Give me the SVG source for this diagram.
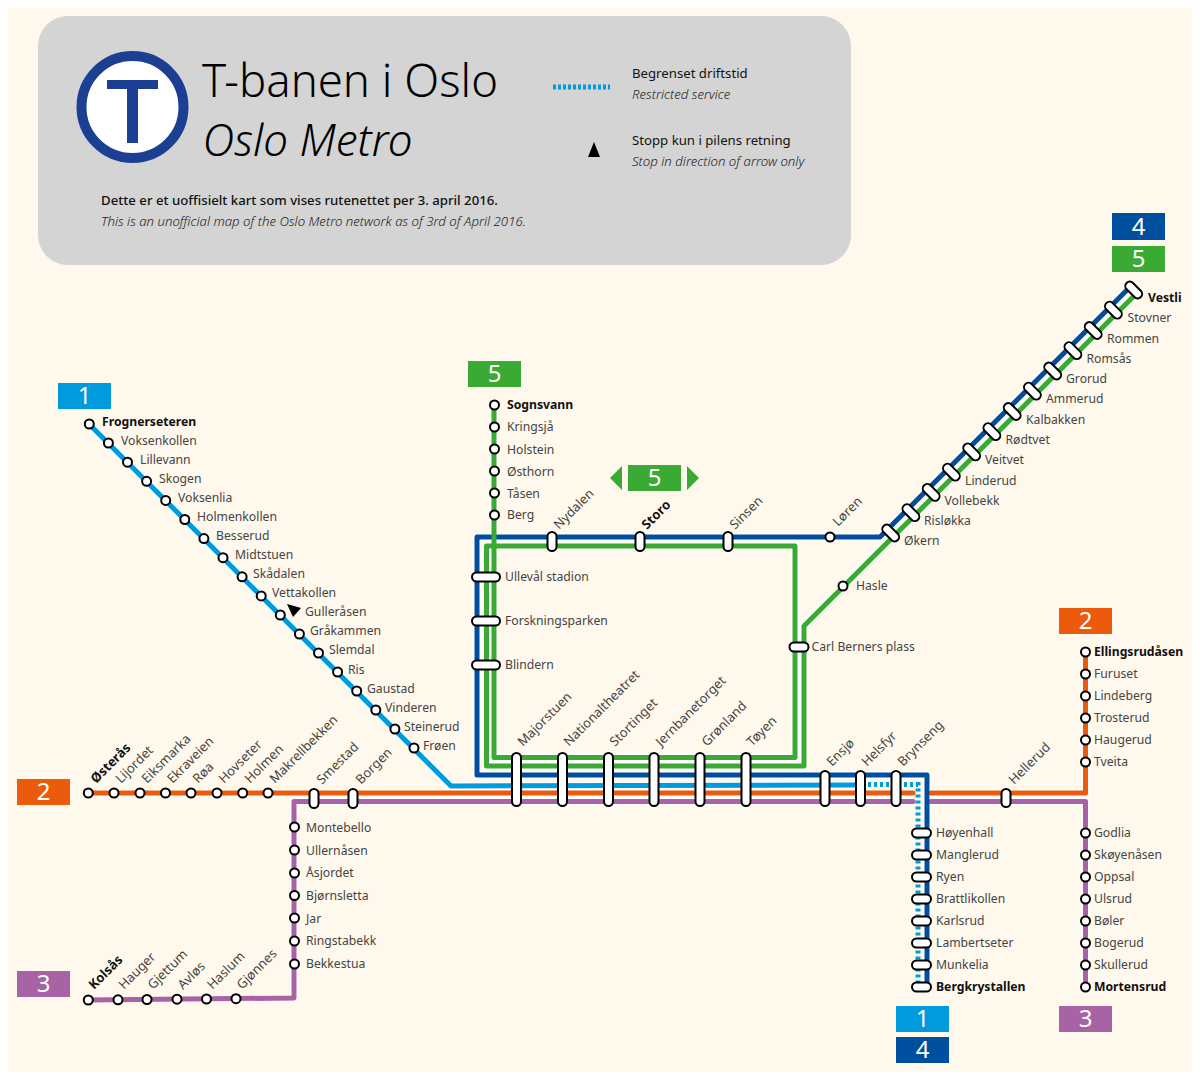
<svg xmlns="http://www.w3.org/2000/svg" width="1200" height="1080" viewBox="0 0 1200 1080">
<style>
text{font-family:"Noto Sans","Open Sans",sans-serif;font-size:12.2px;fill:#444}
text[transform]{font-size:13px}
.b{font-weight:700;fill:#111}
.c{dominant-baseline:central}
.r{stroke:#000;stroke-width:2;fill:#fff}
.o{fill:none;stroke:#fff;stroke-width:8;stroke-linejoin:round}
.l{fill:none;stroke-width:5;stroke-linejoin:round;stroke-linecap:round}
.bd{font-size:24px;fill:#fff;text-anchor:middle}
.l1{stroke:#009bdc}.l2{stroke:#ec5b0c}.l3{stroke:#a763a4}.l4{stroke:#004f9f}.l5{stroke:#3aaa35}
.f1{fill:#009bdc}.f2{fill:#ec5b0c}.f3{fill:#a763a4}.f4{fill:#004f9f}.f5{fill:#3aaa35}
.leg{font-size:13.200px;fill:#111}
.legi{font-size:13.200px;font-style:italic;font-weight:300;fill:#222}
</style>
<rect width="1200" height="1080" fill="#fff"/>
<rect x="8" y="8" width="1184" height="1064" fill="#fff8ec"/>
<g id="legend">
<rect x="38" y="16" width="813" height="249" rx="30" fill="#d4d4d4"/>
<circle cx="132.500" cy="107" r="51" fill="#fff" stroke="#1c3f94" stroke-width="10"/>
<path d="M107 80H158V89H138V143H127V89H107Z" fill="#1c3f94"/>
<text x="202" y="97" style="font-size:45.500px;font-weight:300;fill:#000">T-banen i Oslo</text>
<text x="202.500" y="156" style="font-size:44px;font-weight:300;font-style:italic;fill:#000">Oslo Metro</text>
<line x1="553" y1="87" x2="610" y2="87" stroke="#009bdc" stroke-width="5" stroke-dasharray="3 2"/>
<path d="M594 142L600 157H588Z" fill="#000"/>
<text x="632" y="78" class="leg">Begrenset driftstid</text>
<text x="632" y="99" class="legi">Restricted service</text>
<text x="632" y="145" class="leg">Stopp kun i pilens retning</text>
<text x="632" y="166" class="legi">Stop in direction of arrow only</text>
<text x="101" y="205" style="font-size:13.200px;font-weight:500;fill:#111">Dette er et uoffisielt kart som vises rutenettet per 3. april 2016.</text>
<text x="101" y="226" class="legi">This is an unofficial map of the Oslo Metro network as of 3rd of April 2016.</text>
</g>
<g id="connectors">
<path class="o" d="M88 793H913M931 793H1085.500V652"/>
<path class="o" d="M294 998V801.500H913M931 801.500H1085.500V987"/>
<path class="o" d="M89 424L451 786H860"/>
<path class="o" d="M477 775V537H880L1130 287M477 775H927V987"/>
<path class="o" d="M494 405V757.500H795V546H486.500V766H804V626L1135 295"/>
<path class="l l3" d="M88 1000L294 998V801.500H913M931 801.500H1085.500V987"/>
<path class="l l2" d="M88 793H913M931 793H1085.500V652"/>
<path class="l l1" d="M89 424L451 786L860 785"/>
<path class="l1" fill="none" stroke-width="5" stroke-dasharray="3 3" d="M862 784.500H918V987"/>
<path class="l l4" d="M1130 287L880 537H477V775H927V987"/>
<path class="l l5" d="M494 405V757.500H795V546H486.500V766H804V626L1135 295"/>
</g>
<g id="badges">
<g id="badge-1a"><rect class="f1" x="58" y="383" width="53" height="26"/><text class="bd" x="84.500" y="404">1</text></g>
<g id="badge-2a"><rect class="f2" x="17" y="779" width="53" height="26"/><text class="bd" x="43.500" y="800">2</text></g>
<g id="badge-3a"><rect class="f3" x="17" y="971" width="53" height="26"/><text class="bd" x="43.500" y="992">3</text></g>
<g id="badge-5a"><rect class="f5" x="468" y="361" width="53" height="26"/><text class="bd" x="494.500" y="382">5</text></g>
<g id="badge-5b"><rect class="f5" x="628" y="465" width="53" height="26"/><text class="bd" x="654.500" y="486">5</text><path class="f5" d="M622 466V490L610 478ZM687 466V490L699 478Z"/></g>
<g id="badge-4a"><rect class="f4" x="1112" y="213" width="53" height="27"/><text class="bd" x="1138.500" y="235">4</text></g>
<g id="badge-5c"><rect class="f5" x="1112" y="246" width="53" height="26"/><text class="bd" x="1138.500" y="267">5</text></g>
<g id="badge-2b"><rect class="f2" x="1059" y="608" width="53" height="26"/><text class="bd" x="1085.500" y="629">2</text></g>
<g id="badge-1b"><rect class="f1" x="896" y="1006" width="53" height="26"/><text class="bd" x="922.500" y="1027">1</text></g>
<g id="badge-4b"><rect class="f4" x="896" y="1037" width="53" height="26"/><text class="bd" x="922.500" y="1058">4</text></g>
<g id="badge-3b"><rect class="f3" x="1059" y="1006" width="53" height="26"/><text class="bd" x="1085.500" y="1027">3</text></g>
</g>
<g id="line1-stations">
<g id="n-frognerseteren"><circle class="r" cx="89.300" cy="424" r="4.500"/><text class="b c" x="102" y="421">Frognerseteren</text></g>
<g id="n-voksenkollen"><circle class="r" cx="108.400" cy="443" r="4.500"/><text class="c" x="121" y="440">Voksenkollen</text></g>
<g id="n-lillevann"><circle class="r" cx="127.500" cy="462.200" r="4.500"/><text class="c" x="140" y="459">Lillevann</text></g>
<g id="n-skogen"><circle class="r" cx="146.600" cy="481.300" r="4.500"/><text class="c" x="159" y="478">Skogen</text></g>
<g id="n-voksenlia"><circle class="r" cx="165.700" cy="500.400" r="4.500"/><text class="c" x="178" y="497">Voksenlia</text></g>
<g id="n-holmenkollen"><circle class="r" cx="184.800" cy="519.500" r="4.500"/><text class="c" x="197" y="516">Holmenkollen</text></g>
<g id="n-besserud"><circle class="r" cx="203.900" cy="538.600" r="4.500"/><text class="c" x="216" y="535">Besserud</text></g>
<g id="n-midtstuen"><circle class="r" cx="223" cy="557.700" r="4.500"/><text class="c" x="235" y="554">Midtstuen</text></g>
<g id="n-skadalen"><circle class="r" cx="242.100" cy="576.800" r="4.500"/><text class="c" x="253" y="573">Skådalen</text></g>
<g id="n-vettakollen"><circle class="r" cx="261.200" cy="595.900" r="4.500"/><text class="c" x="272" y="592">Vettakollen</text></g>
<g id="n-gullerasen"><circle class="r" cx="280.300" cy="615" r="4.500"/><path d="M287 604L301 608L293 617Z" fill="#000"/><text class="c" x="305" y="611">Gulleråsen</text></g>
<g id="n-grakammen"><circle class="r" cx="299.400" cy="634" r="4.500"/><text class="c" x="310" y="630">Gråkammen</text></g>
<g id="n-slemdal"><circle class="r" cx="318.500" cy="653" r="4.500"/><text class="c" x="329" y="649">Slemdal</text></g>
<g id="n-ris"><circle class="r" cx="337.600" cy="672" r="4.500"/><text class="c" x="348" y="669">Ris</text></g>
<g id="n-gaustad"><circle class="r" cx="356.700" cy="691" r="4.500"/><text class="c" x="367" y="688">Gaustad</text></g>
<g id="n-vinderen"><circle class="r" cx="375.800" cy="710" r="4.500"/><text class="c" x="385" y="707">Vinderen</text></g>
<g id="n-steinerud"><circle class="r" cx="394.900" cy="729" r="4.500"/><text class="c" x="404" y="726">Steinerud</text></g>
<g id="n-froen"><circle class="r" cx="414" cy="748" r="4.500"/><text class="c" x="423" y="745">Frøen</text></g>
</g>
<g id="line2-stations">
<g id="n-osteras"><circle class="r" cx="88.300" cy="793" r="4.500"/><text class="b" transform="translate(96 784) rotate(-45)">Østerås</text></g>
<g id="n-lijordet"><circle class="r" cx="114" cy="793" r="4.500"/><text transform="translate(121 784) rotate(-45)">Lijordet</text></g>
<g id="n-eiksmarka"><circle class="r" cx="140" cy="793" r="4.500"/><text transform="translate(147 784) rotate(-45)">Eiksmarka</text></g>
<g id="n-ekraveien"><circle class="r" cx="165.500" cy="793" r="4.500"/><text transform="translate(172.500 784) rotate(-45)">Ekraveien</text></g>
<g id="n-roa"><circle class="r" cx="191" cy="793" r="4.500"/><text transform="translate(198 784) rotate(-45)">Røa</text></g>
<g id="n-hovseter"><circle class="r" cx="217" cy="793" r="4.500"/><text transform="translate(224 784) rotate(-45)">Hovseter</text></g>
<g id="n-holmen"><circle class="r" cx="242.700" cy="793" r="4.500"/><text transform="translate(250 784) rotate(-45)">Holmen</text></g>
<g id="n-makrellbekken"><circle class="r" cx="268" cy="793" r="4.500"/><text transform="translate(275 784) rotate(-45)">Makrellbekken</text></g>
<g id="n-smestad"><rect class="r" x="309.500" y="789" width="9" height="19" rx="4.500"/><text transform="translate(322 785) rotate(-45)">Smestad</text></g>
<g id="n-borgen"><rect class="r" x="348.500" y="789" width="9" height="19" rx="4.500"/><text transform="translate(361 785) rotate(-45)">Borgen</text></g>
<g id="n-hellerud"><rect class="r" x="1001.500" y="789" width="9" height="18" rx="4.500"/><text transform="translate(1014 785) rotate(-45)">Hellerud</text></g>
<g id="n-tveita"><circle class="r" cx="1085.500" cy="762" r="4.500"/><text class="c" x="1094" y="761">Tveita</text></g>
<g id="n-haugerud"><circle class="r" cx="1085.500" cy="740" r="4.500"/><text class="c" x="1094" y="739">Haugerud</text></g>
<g id="n-trosterud"><circle class="r" cx="1085.500" cy="718" r="4.500"/><text class="c" x="1094" y="717">Trosterud</text></g>
<g id="n-lindeberg"><circle class="r" cx="1085.500" cy="696" r="4.500"/><text class="c" x="1094" y="695">Lindeberg</text></g>
<g id="n-furuset"><circle class="r" cx="1085.500" cy="674" r="4.500"/><text class="c" x="1094" y="673">Furuset</text></g>
<g id="n-ellingsrudasen"><circle class="r" cx="1085.500" cy="652" r="4.500"/><text class="b c" x="1094" y="651">Ellingsrudåsen</text></g>
</g>
<g id="line3-stations">
<g id="n-kolsas"><circle class="r" cx="88.300" cy="1000" r="4.500"/><text class="b" transform="translate(94 990) rotate(-45)">Kolsås</text></g>
<g id="n-hauger"><circle class="r" cx="118" cy="999.800" r="4.500"/><text transform="translate(124 990) rotate(-45)">Hauger</text></g>
<g id="n-gjettum"><circle class="r" cx="147" cy="999.500" r="4.500"/><text transform="translate(153 990) rotate(-45)">Gjettum</text></g>
<g id="n-avlos"><circle class="r" cx="177" cy="999.200" r="4.500"/><text transform="translate(183 990) rotate(-45)">Avløs</text></g>
<g id="n-haslum"><circle class="r" cx="206.500" cy="999" r="4.500"/><text transform="translate(212.500 990) rotate(-45)">Haslum</text></g>
<g id="n-gjonnes"><circle class="r" cx="236" cy="998.700" r="4.500"/><text transform="translate(242 990) rotate(-45)">Gjønnes</text></g>
<g id="n-bekkestua"><circle class="r" cx="294.500" cy="964" r="4.500"/><text class="c" x="306" y="963">Bekkestua</text></g>
<g id="n-ringstabekk"><circle class="r" cx="294.500" cy="941" r="4.500"/><text class="c" x="306" y="940">Ringstabekk</text></g>
<g id="n-jar"><circle class="r" cx="294.500" cy="918" r="4.500"/><text class="c" x="306" y="918">Jar</text></g>
<g id="n-bjornsletta"><circle class="r" cx="294.500" cy="895.500" r="4.500"/><text class="c" x="306" y="895">Bjørnsletta</text></g>
<g id="n-asjordet"><circle class="r" cx="294.500" cy="873" r="4.500"/><text class="c" x="306" y="872">Åsjordet</text></g>
<g id="n-ullernasen"><circle class="r" cx="294.500" cy="850" r="4.500"/><text class="c" x="306" y="850">Ullernåsen</text></g>
<g id="n-montebello"><circle class="r" cx="294.500" cy="827" r="4.500"/><text class="c" x="306" y="827">Montebello</text></g>
<g id="n-godlia"><circle class="r" cx="1085.500" cy="833" r="4.500"/><text class="c" x="1094" y="832">Godlia</text></g>
<g id="n-skoyenasen"><circle class="r" cx="1085.500" cy="855" r="4.500"/><text class="c" x="1094" y="854">Skøyenåsen</text></g>
<g id="n-oppsal"><circle class="r" cx="1085.500" cy="877" r="4.500"/><text class="c" x="1094" y="876">Oppsal</text></g>
<g id="n-ulsrud"><circle class="r" cx="1085.500" cy="899" r="4.500"/><text class="c" x="1094" y="898">Ulsrud</text></g>
<g id="n-boler"><circle class="r" cx="1085.500" cy="921" r="4.500"/><text class="c" x="1094" y="920">Bøler</text></g>
<g id="n-bogerud"><circle class="r" cx="1085.500" cy="943" r="4.500"/><text class="c" x="1094" y="942">Bogerud</text></g>
<g id="n-skullerud"><circle class="r" cx="1085.500" cy="965" r="4.500"/><text class="c" x="1094" y="964">Skullerud</text></g>
<g id="n-mortensrud"><circle class="r" cx="1085.500" cy="987" r="4.500"/><text class="b c" x="1094" y="986">Mortensrud</text></g>
</g>
<g id="line5-stations">
<g id="n-sognsvann"><circle class="r" cx="494.500" cy="405" r="4.500"/><text class="b c" x="507" y="404">Sognsvann</text></g>
<g id="n-kringsja"><circle class="r" cx="494.500" cy="427" r="4.500"/><text class="c" x="507" y="426">Kringsjå</text></g>
<g id="n-holstein"><circle class="r" cx="494.500" cy="449" r="4.500"/><text class="c" x="507" y="449">Holstein</text></g>
<g id="n-osthorn"><circle class="r" cx="494.500" cy="471" r="4.500"/><text class="c" x="507" y="471">Østhorn</text></g>
<g id="n-tasen"><circle class="r" cx="494.500" cy="493" r="4.500"/><text class="c" x="507" y="493">Tåsen</text></g>
<g id="n-berg"><circle class="r" cx="494.500" cy="515" r="4.500"/><text class="c" x="507" y="514">Berg</text></g>
<g id="n-ulleval"><rect class="r" x="472" y="572.500" width="28" height="9" rx="4.500"/><text class="c" x="505" y="576">Ullevål stadion</text></g>
<g id="n-forskningsparken"><rect class="r" x="472" y="616.500" width="28" height="9" rx="4.500"/><text class="c" x="505" y="620">Forskningsparken</text></g>
<g id="n-blindern"><rect class="r" x="472" y="660.500" width="28" height="9" rx="4.500"/><text class="c" x="505" y="664">Blindern</text></g>
<g id="n-nydalen"><rect class="r" x="547.500" y="532" width="9" height="19" rx="4.500"/><text transform="translate(559 530) rotate(-45)">Nydalen</text></g>
<g id="n-storo"><rect class="r" x="635.500" y="532" width="9" height="19" rx="4.500"/><text class="b" transform="translate(647 530) rotate(-45)">Storo</text></g>
<g id="n-sinsen"><rect class="r" x="723.500" y="532" width="9" height="19" rx="4.500"/><text transform="translate(735 530) rotate(-45)">Sinsen</text></g>
<g id="n-loren"><circle class="r" cx="830" cy="537" r="4.500"/><text transform="translate(838 527) rotate(-45)">Løren</text></g>
<g id="n-hasle"><circle class="r" cx="843" cy="586" r="4.500"/><text class="c" x="856" y="585">Hasle</text></g>
<g id="n-carlberners"><rect class="r" x="789.500" y="642.500" width="19" height="9" rx="4.500"/><text class="c" x="811.500" y="646">Carl Berners plass</text></g>
</g>
<g id="common-stations">
<g id="n-majorstuen"><rect class="r" x="512" y="753" width="9" height="53" rx="4.500"/><text transform="translate(523 747) rotate(-45)">Majorstuen</text></g>
<g id="n-nationaltheatret"><rect class="r" x="558" y="753" width="9" height="53" rx="4.500"/><text transform="translate(569 747) rotate(-45)">Nationaltheatret</text></g>
<g id="n-stortinget"><rect class="r" x="604" y="753" width="9" height="53" rx="4.500"/><text transform="translate(615 747) rotate(-45)">Stortinget</text></g>
<g id="n-jernbanetorget"><rect class="r" x="649.500" y="753" width="9" height="53" rx="4.500"/><text transform="translate(661 747) rotate(-45)">Jernbanetorget</text></g>
<g id="n-gronland"><rect class="r" x="695.500" y="753" width="9" height="53" rx="4.500"/><text transform="translate(707 747) rotate(-45)">Grønland</text></g>
<g id="n-toyen"><rect class="r" x="741.500" y="753" width="9" height="53" rx="4.500"/><text transform="translate(752 747) rotate(-45)">Tøyen</text></g>
<g id="n-ensjo"><rect class="r" x="820.500" y="771" width="9" height="35" rx="4.500"/><text transform="translate(832 767) rotate(-45)">Ensjø</text></g>
<g id="n-helsfyr"><rect class="r" x="856" y="771" width="9" height="35" rx="4.500"/><text transform="translate(867 767) rotate(-45)">Helsfyr</text></g>
<g id="n-brynseng"><rect class="r" x="891.500" y="771" width="9" height="35" rx="4.500"/><text transform="translate(903 767) rotate(-45)">Brynseng</text></g>
<g id="n-hoyenhall"><rect class="r" x="912" y="828.500" width="19" height="9" rx="4.500"/><text class="c" x="936" y="832">Høyenhall</text></g>
<g id="n-manglerud"><rect class="r" x="912" y="850.500" width="19" height="9" rx="4.500"/><text class="c" x="936" y="854">Manglerud</text></g>
<g id="n-ryen"><rect class="r" x="912" y="872.500" width="19" height="9" rx="4.500"/><text class="c" x="936" y="876">Ryen</text></g>
<g id="n-brattlikollen"><rect class="r" x="912" y="894.500" width="19" height="9" rx="4.500"/><text class="c" x="936" y="898">Brattlikollen</text></g>
<g id="n-karlsrud"><rect class="r" x="912" y="916.500" width="19" height="9" rx="4.500"/><text class="c" x="936" y="920">Karlsrud</text></g>
<g id="n-lambertseter"><rect class="r" x="912" y="938.500" width="19" height="9" rx="4.500"/><text class="c" x="936" y="942">Lambertseter</text></g>
<g id="n-munkelia"><rect class="r" x="912" y="960.500" width="19" height="9" rx="4.500"/><text class="c" x="936" y="964">Munkelia</text></g>
<g id="n-bergkrystallen"><rect class="r" x="912" y="982.500" width="19" height="9" rx="4.500"/><text class="b c" x="936" y="986">Bergkrystallen</text></g>
</g>
<g id="vestli-stations">
<g id="n-okern"><rect class="r" x="-10" y="-4.500" width="20" height="9" rx="4.500" transform="translate(890.700 533) rotate(45)"/><text class="c" x="904" y="540">Økern</text></g>
<g id="n-rislokka"><rect class="r" x="-10" y="-4.500" width="20" height="9" rx="4.500" transform="translate(910.900 512.700) rotate(45)"/><text class="c" x="924" y="520">Risløkka</text></g>
<g id="n-vollebekk"><rect class="r" x="-10" y="-4.500" width="20" height="9" rx="4.500" transform="translate(931.200 492.400) rotate(45)"/><text class="c" x="944.500" y="500">Vollebekk</text></g>
<g id="n-linderud"><rect class="r" x="-10" y="-4.500" width="20" height="9" rx="4.500" transform="translate(951.400 472.200) rotate(45)"/><text class="c" x="965" y="480">Linderud</text></g>
<g id="n-veitvet"><rect class="r" x="-10" y="-4.500" width="20" height="9" rx="4.500" transform="translate(971.700 451.900) rotate(45)"/><text class="c" x="985" y="459.500">Veitvet</text></g>
<g id="n-rodtvet"><rect class="r" x="-10" y="-4.500" width="20" height="9" rx="4.500" transform="translate(991.900 431.700) rotate(45)"/><text class="c" x="1005.500" y="439">Rødtvet</text></g>
<g id="n-kalbakken"><rect class="r" x="-10" y="-4.500" width="20" height="9" rx="4.500" transform="translate(1012.200 411.500) rotate(45)"/><text class="c" x="1026" y="419">Kalbakken</text></g>
<g id="n-ammerud"><rect class="r" x="-10" y="-4.500" width="20" height="9" rx="4.500" transform="translate(1032.400 391.200) rotate(45)"/><text class="c" x="1046" y="398.500">Ammerud</text></g>
<g id="n-grorud"><rect class="r" x="-10" y="-4.500" width="20" height="9" rx="4.500" transform="translate(1052.700 371) rotate(45)"/><text class="c" x="1066" y="378">Grorud</text></g>
<g id="n-romsas"><rect class="r" x="-10" y="-4.500" width="20" height="9" rx="4.500" transform="translate(1072.900 350.700) rotate(45)"/><text class="c" x="1086.500" y="358">Romsås</text></g>
<g id="n-rommen"><rect class="r" x="-10" y="-4.500" width="20" height="9" rx="4.500" transform="translate(1093.200 330.500) rotate(45)"/><text class="c" x="1107" y="338">Rommen</text></g>
<g id="n-stovner"><rect class="r" x="-10" y="-4.500" width="20" height="9" rx="4.500" transform="translate(1113.400 310.200) rotate(45)"/><text class="c" x="1127.500" y="317.500">Stovner</text></g>
<g id="n-vestli"><rect class="r" x="-10" y="-4.500" width="20" height="9" rx="4.500" transform="translate(1133.700 290) rotate(45)"/><text class="b c" x="1148" y="297">Vestli</text></g>
</g>
</svg>
